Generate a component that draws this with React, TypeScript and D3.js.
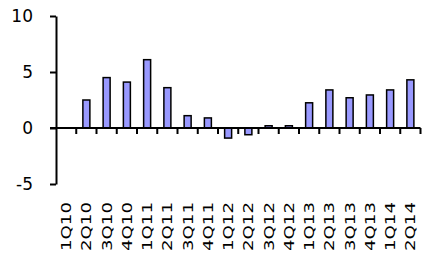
import React, { useRef, useEffect } from 'react';
import * as d3 from 'd3';

const quarters = ['1Q10', '2Q10', '3Q10', '4Q10', '1Q11', '2Q11', '3Q11', '4Q11', '1Q12', '2Q12', '3Q12', '4Q12', '1Q13', '2Q13', '3Q13', '4Q13', '1Q14', '2Q14'];
const values = [0, 2.5, 4.5, 4.1, 6.1, 3.6, 1.1, 0.9, -0.9, -0.6, 0.2, 0.2, 2.25, 3.4, 2.7, 2.95, 3.4, 4.3];
const yTicks = [-5, 0, 5, 10];
const title = 'Support to GDP growth, pp';

const App = () => {
  const ref = useRef<SVGSVGElement>(null);
  const width = 424;
  const height = 253;

  useEffect(() => {
    const svg = d3.select(ref.current);
    svg.selectAll('*').remove();

    const x = d3.scaleBand().domain(quarters).range([56, 420.5]).paddingInner(0).paddingOuter(0);
    const y = d3.scaleLinear().domain([-5, 10]).range([184, 16]);

    // title, mostly cut off above the frame
    svg.append('text')
      .attr('x', 240)
      .attr('y', -4)
      .attr('text-anchor', 'middle')
      .style('font-family', 'DejaVu Sans')
      .style('font-size', '17px')
      .text(title);

    // bars
    svg.selectAll('.bar')
      .data(values)
      .enter()
      .append('rect')
      .attr('class', 'bar')
      .attr('x', (d, i) => x(quarters[i])! + x.bandwidth() / 2 - 3.5)
      .attr('y', d => y(Math.max(0, d)))
      .attr('width', 7)
      .attr('height', d => Math.abs(y(d) - y(0)))
      .attr('fill', '#9999ff')
      .attr('stroke', 'black')
      .attr('stroke-width', 1.5)
      .style('display', d => (d === 0 ? 'none' : null));

    // y axis
    const yAxis = svg.append('g')
      .attr('transform', 'translate(56,0)')
      .call(d3.axisLeft(y).tickValues(yTicks).tickFormat(d => String(d)).tickSize(6).tickPadding(17).tickSizeOuter(0));
    yAxis.select('.domain').attr('stroke', 'black').attr('stroke-width', 2);
    yAxis.selectAll('.tick line').attr('stroke', 'black').attr('stroke-width', 2);
    yAxis.selectAll('.tick text')
      .attr('fill', 'black')
      .style('font-family', 'DejaVu Sans')
      .style('font-size', '17px');

    // x axis at zero with ticks between categories
    const xg = svg.append('g').attr('transform', `translate(0,${y(0)})`);
    xg.append('line')
      .attr('x1', 50)
      .attr('x2', 420.5)
      .attr('stroke', 'black')
      .attr('stroke-width', 2);
    xg.selectAll('.xtick')
      .data(quarters)
      .enter()
      .append('line')
      .attr('x1', d => x(d)! + x.bandwidth())
      .attr('x2', d => x(d)! + x.bandwidth())
      .attr('y1', 0)
      .attr('y2', 6)
      .attr('stroke', 'black')
      .attr('stroke-width', 2);

    // rotated category labels
    svg.selectAll('.xlabel')
      .data(quarters)
      .enter()
      .append('text')
      .attr('transform', d => `translate(${x(d)! + x.bandwidth() / 2},202) rotate(-90) scale(1.3,1)`)
      .attr('text-anchor', 'end')
      .attr('dy', '0.36em')
      .style('font-family', 'DejaVu Sans')
      .style('font-size', '14px')
      .text(d => d);
  }, []);

  return (
    <svg ref={ref} width={width} height={height} style={{ position: 'absolute', left: 0, top: 0 }}></svg>
  );
};

export default App;
